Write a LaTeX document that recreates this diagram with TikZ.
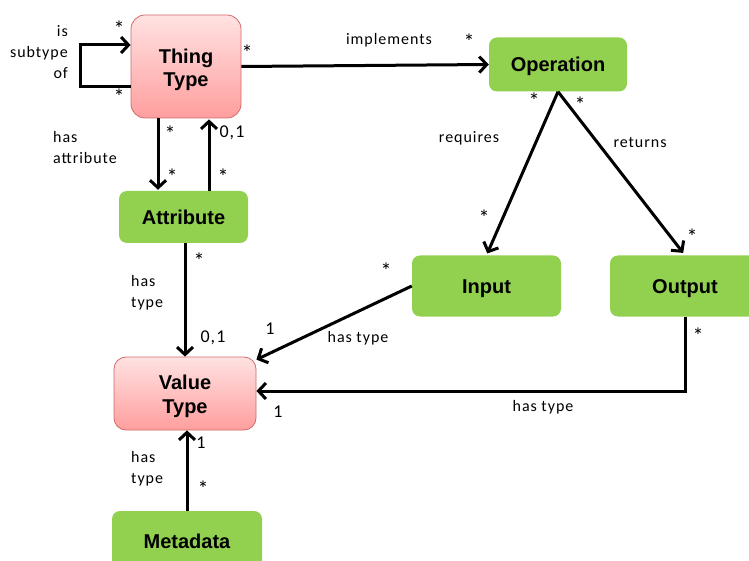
\documentclass[tikz,border=0pt]{standalone}
\usepackage{fontspec}
\setmainfont{Liberation Sans}
\newfontfamily\lblfont[LetterSpace=6]{Carlito}
\newfontfamily\multfont{Carlito}
\usetikzlibrary{arrows.meta}
\definecolor{boxgreen}{HTML}{92D050}
\definecolor{pinktop}{HTML}{FFE2E2}
\definecolor{pinkbot}{HTML}{FF9E9E}
\definecolor{pinkline}{HTML}{D26A6A}
\begin{document}
\begin{tikzpicture}[x=1pt,y=-1pt,
  greenbox/.style={rectangle, rounded corners=8pt, fill=boxgreen, inner sep=0pt,
    text height=14.5pt, text depth=0pt,
    font=\fontsize{20}{24}\selectfont\bfseries},
  pinkbox/.style={rectangle, rounded corners=14pt, top color=pinktop, bottom color=pinkbot,
    draw=pinkline, line width=0.8pt, inner sep=0pt},
  boxtext/.style={inner sep=0pt, align=center, font=\fontsize{20}{23.5}\selectfont\bfseries},
  lbl/.style={font=\fontsize{16}{21}\lblfont, inner sep=0pt},
  star/.style={font=\fontsize{22}{22}\multfont, inner sep=0pt, anchor=base},
  num/.style={font=\fontsize{18}{18}\lblfont, inner sep=0pt, anchor=base},
  conn/.style={line width=3pt, -{Straight Barb[length=7.5pt,width=16pt]}}]
\useasboundingbox (0,0) rectangle (749,561);
\clip (0,0) rectangle (749,561);
\fill[white] (0,0) rectangle (749,561);

% nodes
\node[pinkbox, minimum width=110pt, minimum height=103pt] (tt) at (186,66.5) {};
\node[boxtext] (tttext) at (186,70) {Thing\\Type};
\node[greenbox, minimum width=138pt, minimum height=54pt] (op) at (558,64.5) {Operation};
\node[greenbox, minimum width=129pt, minimum height=52pt] (attr) at (183.5,217) {Attribute};
\node[greenbox, minimum width=149pt, minimum height=61pt] (inp) at (486.5,286) {Input};
\node[greenbox, minimum width=150pt, minimum height=61pt] (outp) at (685,286) {Output};
\node[pinkbox, rounded corners=12pt, minimum width=142pt, minimum height=73pt] (vt) at (185,393.5) {};
\node[boxtext] (vttext) at (185,396.5) {Value\\Type};
\node[greenbox, minimum width=150pt, minimum height=61pt] (md) at (187,541.5) {Metadata};

% connectors
\draw[conn] ([yshift=-20.5pt]tt.west) -- ++(-50,0) |- ([yshift=21.5pt]tt.west);
\draw[conn] (tt.east) -- (op.west);
\draw[conn, shorten >=1pt] ([xshift=-28pt]tt.south) -- ([xshift=-25.5pt]attr.north);
\draw[conn, shorten >=1pt] ([xshift=25.5pt]attr.north) -- ([xshift=23pt]tt.south);
\draw[conn] ([xshift=1.5pt]attr.south) -- (vt.north);
\draw[conn, shorten >=2pt] (op.south) -- (inp.north);
\draw[conn, shorten >=3pt] (op.south) -- (outp.north);
\draw[conn] (inp.west) -- ([yshift=-3pt]vt.north east);
\draw[conn] (outp.south) |- ([yshift=2.5pt]vt.east);
\draw[conn] (md.north) -- ([xshift=2pt]vt.south);

% text labels
\node[lbl, align=right, anchor=east] (l1) at (68,52) {is\\subtype\\of};
\node[lbl, align=left, anchor=west] (l2) at (53,148) {has\\attribute};
\node[lbl, align=left, anchor=west] (l3) at (131,293) {has\\type};
\node[lbl, align=left, anchor=west] (l4) at (131,469) {has\\type};
\node[lbl, anchor=base] (l5) at (389,45) {implements};
\node[lbl, anchor=base] (l6) at (469,143) {requires};
\node[lbl, anchor=base] (l7) at (640,148) {returns};
\node[lbl, anchor=base] (l8) at (358,342) {has type};
\node[lbl, anchor=base] (l9) at (543,411) {has type};

% multiplicities
\node[star] (m1) at (119,37) {*};
\node[star] (m2) at (119,105) {*};
\node[star] (m3) at (247,61) {*};
\node[star] (m4) at (469,50) {*};
\node[star] (m5) at (170,142) {*};
\node[star] (m6) at (172,185) {*};
\node[star] (m7) at (223,185) {*};
\node[star] (m8) at (199,269) {*};
\node[star] (m9) at (386,278) {*};
\node[star] (m10) at (534,109) {*};
\node[star] (m11) at (580,113) {*};
\node[star] (m12) at (484,226) {*};
\node[star] (m13) at (692,245) {*};
\node[star] (m14) at (698,343) {*};
\node[star] (m15) at (203,496) {*};
\node[num] (n1) at (232,138) {0,1};
\node[num] (n2) at (213,342) {0,1};
\node[num] (n3) at (270,334) {1};
\node[num] (n4) at (278,417) {1};
\node[num] (n5) at (201,448) {1};
\end{tikzpicture}
\end{document}
